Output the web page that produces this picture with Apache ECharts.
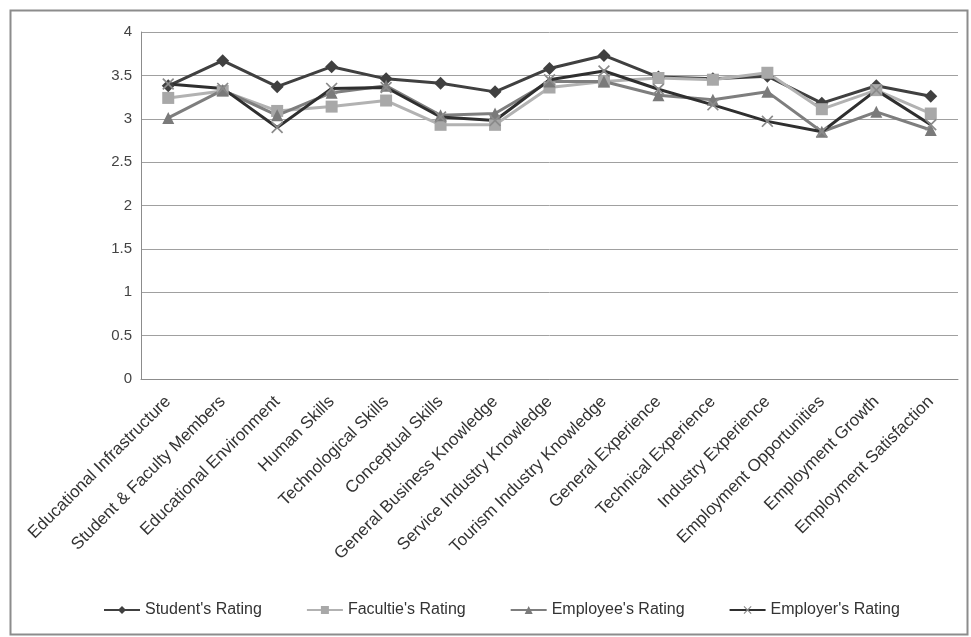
<!DOCTYPE html>
<html>
<head>
<meta charset="utf-8">
<script src="https://cdn.jsdelivr.net/npm/echarts@6/dist/echarts.min.js"></script>
<style>
  html, body { margin: 0; padding: 0; background: #ffffff; }
  #chart { width: 971px; height: 637px; }
</style>
</head>
<body>
<div id="chart"></div>
<script>
// Rating dimensions along the horizontal axis
const categories = [
  'Educational Infrastructure', 'Student & Faculty Members', 'Educational Environment',
  'Human Skills', 'Technological Skills', 'Conceptual Skills',
  'General Business Knowledge', 'Service Industry Knowledge', 'Tourism Industry Knowledge',
  'General Experience', 'Technical Experience', 'Industry Experience',
  'Employment Opportunities', 'Employment Growth', 'Employment Satisfaction'
];

// Mean ratings given by each respondent group
const studentRating  = [3.38, 3.67, 3.37, 3.60, 3.46, 3.41, 3.31, 3.58, 3.73, 3.48, 3.46, 3.49, 3.18, 3.38, 3.26];
const facultyRating  = [3.24, 3.32, 3.09, 3.14, 3.21, 2.93, 2.93, 3.36, 3.43, 3.47, 3.45, 3.53, 3.11, 3.33, 3.06];
const employeeRating = [3.01, 3.33, 3.04, 3.30, 3.38, 3.04, 3.06, 3.43, 3.43, 3.27, 3.22, 3.31, 2.85, 3.08, 2.87];
const employerRating = [3.40, 3.35, 2.90, 3.35, 3.36, 3.02, 2.98, 3.45, 3.55, 3.34, 3.16, 2.97, 2.85, 3.33, 2.93];

// Y-axis ticks
const yMin = 0, yMax = 4, yStep = 0.5;

const crossSymbol = 'path://M0,1 L1,0 L5,4 L9,0 L10,1 L6,5 L10,9 L9,10 L5,6 L1,10 L0,9 L4,5 Z';

function lineSeries(name, data, lineColor, symbol, symbolColor, symbolSize) {
  return {
    name: name,
    type: 'line',
    data: data,
    symbol: symbol,
    symbolSize: symbolSize,
    showAllSymbol: true,
    lineStyle: { color: lineColor, width: 3 },
    itemStyle: { color: symbolColor, borderWidth: 0 },
    emphasis: { disabled: true },
    animation: false
  };
}

const chart = echarts.init(document.getElementById('chart'), null, { renderer: 'canvas' });

chart.setOption({
  backgroundColor: '#ffffff',
  textStyle: { fontFamily: 'Liberation Sans, Arial, sans-serif' },
  graphic: [{
    type: 'rect',
    left: 8, top: 8,
    shape: { width: 957, height: 624 },
    style: { fill: 'none', stroke: '#8c8c8c', lineWidth: 2 },
    silent: true
  }],
  grid: { left: 141, right: 13, top: 32, bottom: 258, containLabel: false },
  legend: {
    bottom: 14,
    left: 98,
    itemGap: 44,
    itemWidth: 36,
    itemHeight: 10,
    textStyle: { fontSize: 16, color: '#333333', fontFamily: 'Liberation Sans, Arial, sans-serif' },
    data: ["Student's Rating", "Facultie's Rating", "Employee's Rating", "Employer's Rating"]
  },
  xAxis: {
    type: 'category',
    data: categories,
    boundaryGap: true,
    axisLine: { show: true, lineStyle: { color: '#8c8c8c', width: 1 } },
    axisTick: { show: false },
    axisLabel: {
      interval: 0,
      rotate: 45,
      margin: 20,
      fontSize: 17,
      color: '#333333'
    },
    splitLine: { show: false }
  },
  yAxis: {
    type: 'value',
    min: yMin,
    max: yMax,
    interval: yStep,
    axisLine: { show: true, lineStyle: { color: '#8c8c8c', width: 1 } },
    axisTick: { show: false },
    axisLabel: { fontSize: 15, color: '#444444', margin: 9 },
    splitLine: { show: true, lineStyle: { color: '#a0a0a0', width: 1 } }
  },
  series: [
    lineSeries("Student's Rating", studentRating, '#404040', 'diamond', '#404040', 13),
    lineSeries("Facultie's Rating", facultyRating, '#b2b2b2', 'rect', '#a8a8a8', 12),
    lineSeries("Employee's Rating", employeeRating, '#7e7e7e', 'triangle', '#7a7a7a', 12),
    lineSeries("Employer's Rating", employerRating, '#2f2f2f', crossSymbol, '#8a8a8a', 12)
  ]
});
</script>
</body>
</html>
